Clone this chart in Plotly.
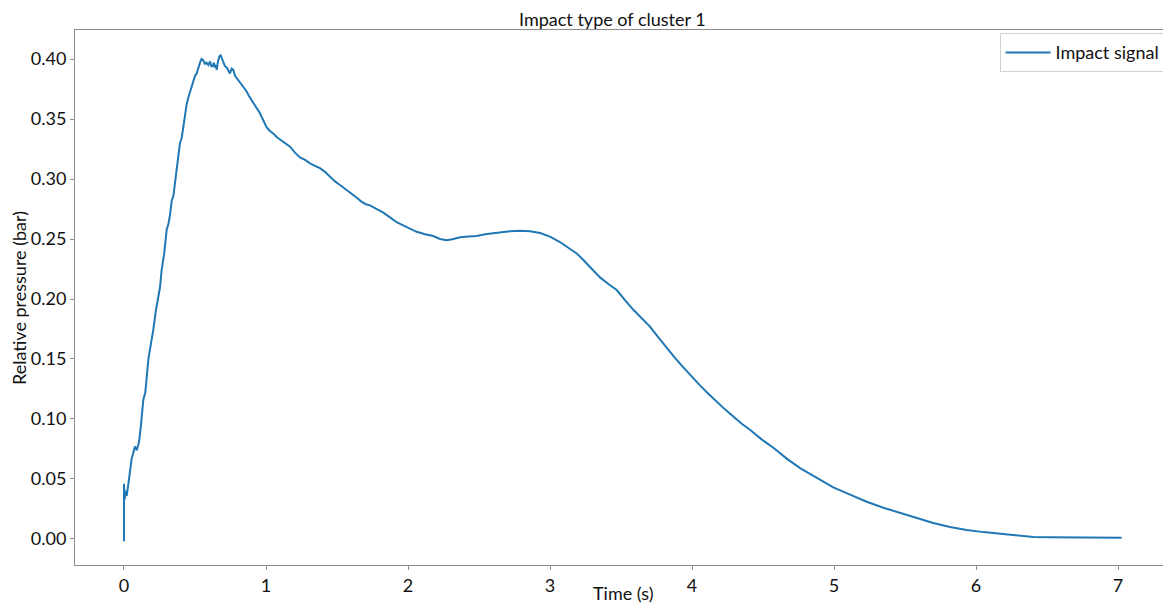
import plotly.graph_objects as go

# time (s) and relative pressure (bar)
time_s = [0.000, 0.000, 0.005, 0.012, 0.019, 0.030, 0.042, 0.054, 0.066, 0.077, 0.090,
          0.106, 0.118, 0.136, 0.150, 0.160, 0.172, 0.183, 0.195, 0.206, 0.224,
          0.242, 0.254, 0.265, 0.283, 0.301, 0.312, 0.324, 0.336, 0.348, 0.359,
          0.370, 0.382, 0.394, 0.406, 0.418, 0.430, 0.441, 0.453, 0.470, 0.488,
          0.500, 0.512, 0.524, 0.535, 0.546, 0.558, 0.570, 0.582, 0.594, 0.606,
          0.615, 0.625, 0.633, 0.641, 0.647, 0.653, 0.662, 0.671, 0.681, 0.690,
          0.699, 0.711, 0.723, 0.735, 0.746, 0.758, 0.770, 0.782, 0.794, 0.812,
          0.829, 0.846, 0.864, 0.881, 0.899, 0.917, 0.935, 0.952, 0.970, 0.988,
          1.005, 1.028, 1.051, 1.075, 1.099, 1.134, 1.169, 1.204, 1.239, 1.275,
          1.310, 1.345, 1.380, 1.415, 1.451, 1.486, 1.521, 1.556, 1.592, 1.633,
          1.674, 1.703, 1.732, 1.779, 1.826, 1.873, 1.920, 1.955, 1.991, 2.026,
          2.061, 2.120, 2.178, 2.225, 2.273, 2.320, 2.366, 2.425, 2.484, 2.542,
          2.601, 2.660, 2.718, 2.789, 2.859, 2.930, 3.000, 3.070, 3.129, 3.188,
          3.235, 3.282, 3.352, 3.411, 3.470, 3.528, 3.587, 3.646, 3.704, 3.763,
          3.822, 3.880, 3.939, 3.998, 4.056, 4.115, 4.174, 4.232, 4.291, 4.350,
          4.408, 4.490, 4.573, 4.667, 4.761, 4.878, 4.995, 5.113, 5.230, 5.348,
          5.465, 5.582, 5.699, 5.817, 5.934, 6.052, 6.169, 6.287, 6.404, 6.522,
          6.639, 6.830, 7.026]

pressure_bar = [-0.002, 0.046, 0.033, 0.040, 0.036, 0.045, 0.058, 0.067, 0.072, 0.077, 0.074,
                0.081, 0.093, 0.116, 0.122, 0.135, 0.150, 0.158, 0.165, 0.174, 0.190,
                0.202, 0.210, 0.224, 0.238, 0.258, 0.262, 0.270, 0.282, 0.286, 0.297,
                0.310, 0.322, 0.330, 0.334, 0.345, 0.352, 0.362, 0.368, 0.374, 0.381,
                0.386, 0.388, 0.394, 0.397, 0.400, 0.399, 0.396, 0.397, 0.395, 0.398,
                0.394, 0.394, 0.397, 0.393, 0.395, 0.391, 0.398, 0.402, 0.403, 0.400,
                0.398, 0.394, 0.393, 0.390, 0.388, 0.392, 0.391, 0.386, 0.384, 0.381,
                0.378, 0.376, 0.373, 0.369, 0.366, 0.362, 0.359, 0.356, 0.352, 0.347,
                0.343, 0.340, 0.338, 0.335, 0.333, 0.330, 0.327, 0.322, 0.318, 0.316,
                0.313, 0.311, 0.309, 0.306, 0.302, 0.298, 0.295, 0.292, 0.289, 0.285,
                0.281, 0.279, 0.278, 0.275, 0.272, 0.268, 0.264, 0.262, 0.260, 0.258,
                0.256, 0.254, 0.2525, 0.250, 0.249, 0.250, 0.2515, 0.252, 0.2525, 0.254,
                0.255, 0.256, 0.2565, 0.2568, 0.2565, 0.255, 0.252, 0.2475, 0.243, 0.238,
                0.2325, 0.227, 0.218, 0.2125, 0.2075, 0.199, 0.191, 0.184, 0.177, 0.168,
                0.159, 0.151, 0.143, 0.135, 0.128, 0.121, 0.114, 0.108, 0.102, 0.096,
                0.091, 0.083, 0.076, 0.067, 0.059, 0.051, 0.043, 0.037, 0.031, 0.026,
                0.0217, 0.0172, 0.0133, 0.0100, 0.0075, 0.0057, 0.0042, 0.0028, 0.0017, 0.0015,
                0.0014, 0.0012, 0.0011]

font_family = "Lato, 'Open Sans', sans-serif"
axis_grey = '#8c8c8c'

fig = go.Figure()
fig.add_trace(go.Scatter(x=time_s, y=pressure_bar, mode='lines', name='Impact signal',
                         line=dict(color='#1f77b4', width=2)))

# page body has an 8px margin, so the figure is 8px smaller and shifted
fig.update_layout(
    width=1163, height=600,
    margin=dict(l=67, r=0, t=22, b=43, autoexpand=False),
    paper_bgcolor='white', plot_bgcolor='white',
    font=dict(family=font_family, color='#111111'),
    showlegend=True,
    legend=dict(x=0.995, y=0.994, xanchor='right', yanchor='top',
                bordercolor='#d0d0d0', borderwidth=1, bgcolor='white',
                font=dict(size=18), itemwidth=45),
    annotations=[
        dict(text='Impact type of cluster 1', xref='paper', yref='paper',
             x=(612 - 75) / 1096, y=1, yanchor='bottom', yshift=-2,
             showarrow=False, font=dict(size=18)),
        dict(text='Time (s)', xref='paper', yref='paper',
             x=(623 - 75) / 1096, y=0, yanchor='top', yshift=-15,
             showarrow=False, font=dict(size=18)),
        dict(text='Relative pressure (bar)', xref='paper', yref='paper',
             x=0, y=(565 - 298) / 535, xanchor='right', xshift=-43, textangle=-90,
             showarrow=False, font=dict(size=18)),
    ],
)

fig.update_xaxes(
    range=[-0.345, 7.373], showgrid=False, zeroline=False, automargin=False,
    showline=True, linecolor=axis_grey, linewidth=1, mirror=True,
    ticks='outside', ticklen=4, tickcolor=axis_grey,
    tickvals=[0, 1, 2, 3, 4, 5, 6, 7], tickfont=dict(size=18),
)
fig.update_yaxes(
    range=[-0.0217, 0.4242], showgrid=False, zeroline=False, automargin=False,
    showline=True, linecolor=axis_grey, linewidth=1,
    ticks='outside', ticklen=4, tickcolor=axis_grey,
    tickvals=[0, 0.05, 0.1, 0.15, 0.2, 0.25, 0.3, 0.35, 0.4],
    tickformat='.2f', tickfont=dict(size=18),
)

fig.write_html("out.html")
